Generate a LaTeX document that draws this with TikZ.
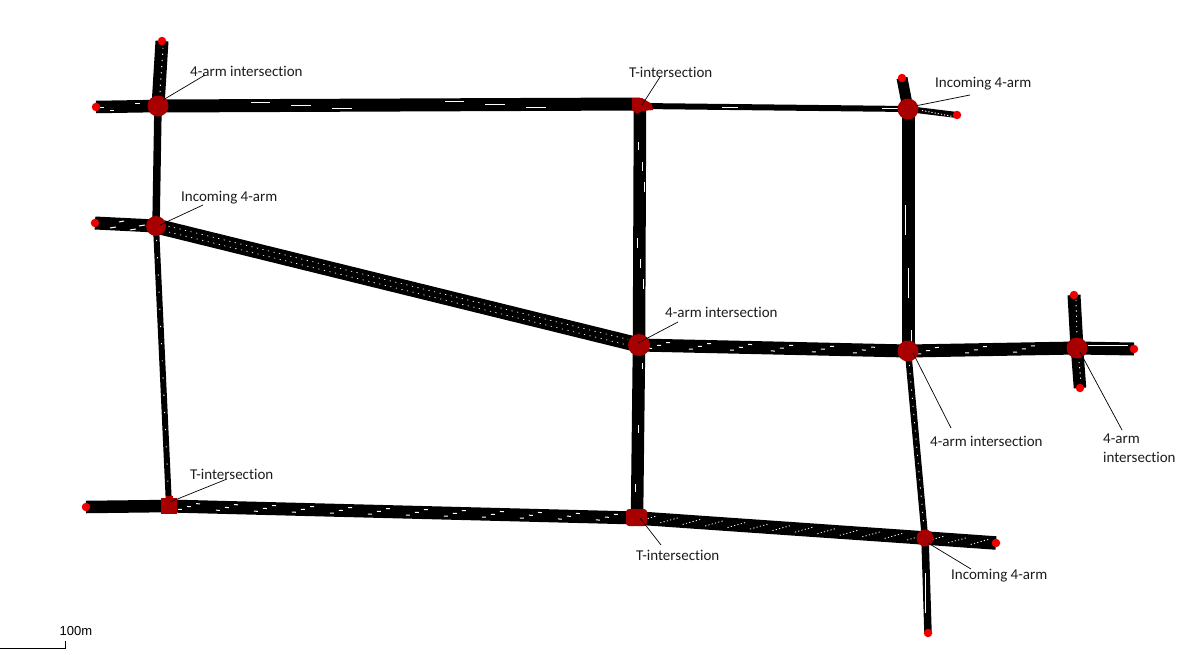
\documentclass[tikz,border=0pt]{standalone}
\usepackage{fontspec}
\setmainfont[Ligatures={NoCommon,NoRequired,NoContextual}]{Carlito}
\usetikzlibrary{calc,decorations.markings}
\definecolor{junc}{HTML}{A80000}
\definecolor{endred}{HTML}{EE0000}
\definecolor{lab}{HTML}{1C1C1C}
\tikzset{
  road/.style={draw=black,line width=#1,line cap=butt},
  road/.default=13pt,
  junction/.style={circle,fill=junc,minimum size=#1,inner sep=0pt},
  junction/.default=21pt,
  juncbox/.style={rectangle,fill=junc,inner sep=0pt},
  enddot/.style={circle,fill=endred,minimum size=8.5pt,inner sep=0pt},
  leader/.style={draw=black,line width=0.7pt},
  lbl/.style={anchor=west,inner sep=0pt,font=\fontsize{15}{18}\selectfont,text=lab},
  centre/.style={draw=white,line width=1pt},
  dots/.style={draw=white,line width=0.9pt,dash pattern=on 1.2pt off #1},
  triple/.style={postaction={decorate,decoration={markings,
    mark=between positions 20pt and -6pt step #1 with {
      \draw[white,line width=1pt] (-11,3)--(-7,3) (-2,0)--(2,0) (7,-3)--(11,-3);}}}},
  streak/.style={postaction={decorate,decoration={markings,
    mark=between positions 10pt and -8pt step 22.5pt with {
      \draw[white,line width=0.8pt,dash pattern=on 1.2pt off 2.2pt] (-9,3.2)--(9,-3.2);}}}},
}
\begin{document}
\begin{tikzpicture}[x=1pt,y=-1pt]
\useasboundingbox (0,0) rectangle (1186,654);
\fill[white] (0,0) rectangle (1186,654);
\coordinate (A) at (158,106);
\coordinate (B) at (156,226);
\coordinate (C) at (641,106);
\coordinate (Cw) at (640,104);
\coordinate (D) at (908,109);
\coordinate (E) at (639,345);
\coordinate (F) at (908,351);
\coordinate (G) at (1077,348);
\coordinate (H) at (169,506);
\coordinate (I) at (637,518);
\coordinate (J) at (925,538);
\coordinate (an) at (162,41);
\coordinate (aw) at (96,107);
\coordinate (bw) at (95,223);
\coordinate (dn) at (902,78);
\coordinate (de) at (957,115);
\coordinate (gn) at (1074,295);
\coordinate (gs) at (1080,388);
\coordinate (ge) at (1134,349);
\coordinate (hw) at (86,507);
\coordinate (je) at (996,543);
\coordinate (js) at (928,633);
% roads
\draw[road=13pt] (A) -- (an);
\draw[road=12.5pt] (aw) -- (A);
\draw[road=13pt] (A) -- (Cw);
\draw[road=7.5pt] (A) -- (B);
\draw[road=13pt] (bw) -- (B);
\draw[road=6pt] (B) -- (H);
\draw[road=15pt] (B) -- (E);
\draw[road=6pt] (C) -- (D);
\draw[road=12.5pt] (Cw) -- (E);
\draw[road=13pt] (D) -- (F);
\draw[road=11pt] (D) -- (dn);
\draw[road=6pt] (D) -- (de);
\draw[road=13pt,triple=41pt] (E) -- (F);
\draw[road=13pt,triple=48pt] (F) -- (G);
\draw[road=13pt] (G) -- (gn);
\draw[road=12.5pt] (G) -- (gs);
\draw[road=13pt] (G) -- (ge);
\draw[road=12.5pt] (E) -- (I);
\draw[road=12.5pt] (hw) -- (H);
\draw[road=13pt,triple=38pt] (H) -- (I);
\draw[road=13.5pt,streak] (I) -- (J);
\draw[road=13.5pt,streak] (J) -- (je);
\draw[road=6.5pt] (F) -- (J);
\draw[road=7.5pt] (J) -- (js);
% white centre marks
\draw[dots=5pt,line width=1pt] (160,92) -- (163,48);
\draw[dots=16pt] ($(B)!14pt!(H)$) -- ($(H)!6pt!(B)$);
\draw[dots=4.5pt,line width=0.7pt] ($(B)!12pt!(E)+(0.7,-2.7)$) -- ($(E)!12pt!(B)+(0.7,-2.7)$);
\draw[dots=4.5pt,line width=0.7pt] ($(B)!14pt!(E)+(-0.7,2.7)$) -- ($(E)!12pt!(B)+(-0.7,2.7)$);
\draw[dots=7pt] ($(F)!14pt!(J)$) -- ($(J)!12pt!(F)$);
\draw[dots=2pt] (922,110.5) -- (953,116.5);
\draw[centre] (251,102) -- (270,102) (291,105) -- (311,105) (332,108.5) -- (352,108.5);
\draw[centre] (445,101) -- (464,101) (485,104) -- (505,104) (526,107) -- (546,107);
\draw[centre] (100,107) -- (104,107) (110,110) -- (114,110) (135,103) -- (140,103);
\draw[centre] (110,228) -- (116,227) (119,222) -- (124,221) (130,230) -- (136,229) (139,226) -- (145,225);
\draw[centre] (722,107) -- (738,107) (882,108.5) -- (898,108.5);
\draw[centre] (638,142) -- (638,150) (642,162) -- (642,171) (644,182) -- (644,192);
\draw[centre] (637,238) -- (637,248) (640,259) -- (640,268) (643,279) -- (643,289);
\draw[centre] (905,205) -- (905,235) (908,268) -- (908,298) (911,330) -- (911,342);
\draw[centre] (642,363) -- (642,369) (638,425) -- (638,433) (635,484) -- (635,492);
\draw[centre] (1088,345) -- (1128,345);
\draw[dots=4pt] (1076,300) -- (1077,336);
\draw[dots=4pt] (1079,362) -- (1081,382);
\draw[centre] (925,573) -- (925,613);
% junction nodes
\node[junction] (nA) at (A) {};
\node[junction=20pt] (nB) at (B) {};
\path (C) node[inner sep=0pt,minimum size=0pt] (nC) {};
\fill[junc] (632,98) -- (642,98) -- (652,104) -- (653,110) -- (642,111) -- (637,114) -- (632,110) -- cycle;
\node[junction=21pt] (nD) at (D) {};
\node[junction=22pt] (nE) at (E) {};
\node[junction=21pt] (nF) at (F) {};
\node[junction=21pt] (nG) at (G) {};
\fill[junc] (166,496) rectangle (173,500);
\node[juncbox,minimum width=16pt,minimum height=16pt] (nH) at (169,506) {};
\node[juncbox,rounded corners=3pt,minimum width=21pt,minimum height=17pt] (nI) at (636.5,517.5) {};
\node[junction=17pt] (nJ) at (925,538) {};
% road ends
\foreach \p in {an,aw,bw,dn,de,gn,gs,ge,hw,je,js}{\node[enddot] (dot\p) at (\p) {};}
% labels
\node[lbl] (tA) at (190,71) {4-arm intersection};
\node[lbl] (tB) at (181,198) {Incoming 4-arm};
\node[lbl] (tC) at (629,72) {T-intersection};
\node[lbl] (tD) at (935,84) {Incoming 4-arm};
\node[lbl] (tE) at (665,312) {4-arm intersection};
\node[lbl] (tF) at (930,441) {4-arm intersection};
\node[lbl] (tG) at (1103,439) {4-arm};
\node[lbl] (tGb) at (1103,457) {intersection};
\node[lbl] (tH) at (190,474) {T-intersection};
\node[lbl] (tI) at (636,555) {T-intersection};
\node[lbl] (tJ) at (951,576) {Incoming 4-arm};
% leaders
\coordinate (lA) at (205,75); \coordinate (iA) at (163,100);
\coordinate (lB) at (203,205); \coordinate (iB) at (160,225);
\coordinate (lC) at (660,77); \coordinate (iC) at (642,105);
\coordinate (lD) at (970,95); \coordinate (iD) at (915,106);
\coordinate (lE) at (678,322); \coordinate (iE) at (638,343);
\coordinate (lF) at (951,428); \coordinate (iF) at (913,353);
\coordinate (lG) at (1122,430); \coordinate (iG) at (1080,352);
\coordinate (lH) at (227,479); \coordinate (iH) at (170,502);
\coordinate (lI) at (661,545); \coordinate (iI) at (640,518);
\coordinate (lJ) at (971,569); \coordinate (iJ) at (928,543);
\foreach \k in {A,B,C,D,E,F,G,H,I,J}{\draw[leader] (l\k) -- (i\k);}
% scale
\coordinate (s0) at (0,648); \coordinate (s1) at (65,648); \coordinate (s2) at (65,641);
\draw[black,line width=0.8pt] (s0) -- (s1) -- (s2);
\node[anchor=west,inner sep=0pt,font=\fontsize{13}{15}\selectfont\fontspec{Liberation Sans},text=black] (tS) at (59.5,631) {100m};
\end{tikzpicture}
\end{document}
